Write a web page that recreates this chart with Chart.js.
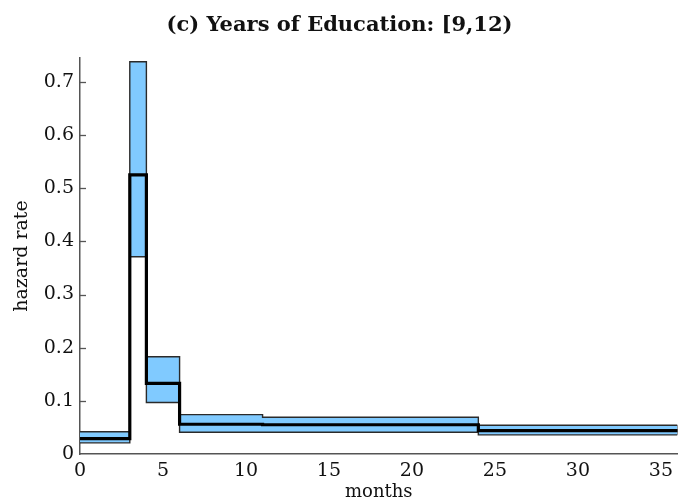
<!DOCTYPE html>
<html>
<head>
<meta charset="utf-8">
<script src="https://cdn.jsdelivr.net/npm/chart.js@4/dist/chart.umd.min.js"></script>
<style>
html,body{margin:0;padding:0;background:#fff;}
#wrap{width:679px;height:503px;}
</style>
</head>
<body>
<div id="wrap"><canvas id="c" width="679" height="503"></canvas></div>
<script>
// Interval break points (months) and per-interval values
const breaks = [0, 3, 4, 6, 11, 24, 36];
const hazard = [0.029, 0.525, 0.133, 0.056, 0.055, 0.044];
const upperBand = [0.042, 0.738, 0.183, 0.074, 0.069, 0.054];
const lowerBand = [0.021, 0.371, 0.097, 0.041, 0.041, 0.036];
const xTicks = [0, 5, 10, 15, 20, 25, 30, 35];
const yTicks = [0, 0.1, 0.2, 0.3, 0.4, 0.5, 0.6, 0.7];

function steps(vals) {
  const pts = breaks.slice(0, vals.length).map((b, i) => ({x: b, y: vals[i]}));
  pts.push({x: breaks[breaks.length - 1], y: vals[vals.length - 1]});
  return pts;
}
const last = breaks.length - 1;
const edge = [{x: breaks[last], y: lowerBand[lowerBand.length - 1]}, {x: breaks[last], y: upperBand[upperBand.length - 1]}];

const serif = "'DejaVu Serif', 'Liberation Serif', serif";
const bandFill = 'rgb(128,202,255)';
const bandEdge = '#2a2a2a';

const inwardTicks = {
  id: 'inwardTicks',
  afterDraw(chart) {
    const ys = chart.scales.y, ctx = chart.ctx;
    ctx.save();
    ctx.strokeStyle = '#555';
    ctx.lineWidth = 1.3;
    yTicks.forEach(v => {
      if (v === 0) return;
      const p = Math.round(ys.getPixelForValue(v)) + 0.5;
      ctx.beginPath();
      ctx.moveTo(ys.right, p);
      ctx.lineTo(ys.right + 6, p);
      ctx.stroke();
    });
    ctx.restore();
  }
};

new Chart(document.getElementById('c'), {
  type: 'line',
  data: {
    datasets: [
      {label: 'hazard', data: steps(hazard), stepped: 'before', borderColor: '#000', borderWidth: 3.2, pointRadius: 0, fill: false, order: 0, clip: false},
      {label: 'upper', data: steps(upperBand), stepped: 'before', borderColor: bandEdge, borderWidth: 1.4, pointRadius: 0, fill: false, order: 1},
      {label: 'lower', data: steps(lowerBand), stepped: 'before', borderColor: bandEdge, borderWidth: 1.4, pointRadius: 0, fill: '-1', backgroundColor: bandFill, order: 1},
      {label: 'edge', data: edge, borderColor: bandEdge, borderWidth: 1.4, pointRadius: 0, fill: false, order: 1}
    ]
  },
  options: {
    responsive: false,
    animation: false,
    events: [],
    layout: {padding: {left: 0, right: 0, top: 0, bottom: 0}},
    plugins: {
      legend: {display: false},
      tooltip: {enabled: false},
      title: {
        display: true,
        text: '(c) Years of Education: [9,12)',
        color: '#111',
        font: {family: serif, size: 21, weight: 'bold'},
        padding: {top: 12.5, bottom: 20.3}
      }
    },
    scales: {
      x: {
        type: 'linear',
        min: 0, max: 36,
        afterBuildTicks(s) { s.ticks = xTicks.map(v => ({value: v})); },
        afterFit(s) { s.height = 49; },
        grid: {display: false, drawTicks: false},
        border: {display: true, color: '#555', width: 1.5},
        ticks: {color: '#111', font: {family: serif, size: 19}, padding: 6, maxRotation: 0, autoSkip: false},
        title: {display: true, text: 'months', color: '#111', font: {family: serif, size: 18}, padding: {top: 0, bottom: 0}}
      },
      y: {
        type: 'linear',
        min: 0, max: 0.745,
        afterBuildTicks(s) { s.ticks = yTicks.map(v => ({value: v})); },
        afterFit(s) { s.width = 80; },
        grid: {display: false, drawTicks: false},
        border: {display: true, color: '#555', width: 1.5},
        ticks: {color: '#111', font: {family: serif, size: 19}, padding: 6, callback: v => v === 0 ? '0' : v.toFixed(1)},
        title: {display: true, text: 'hazard rate', color: '#111', font: {family: serif, size: 19}, padding: {top: 11, bottom: 0}}
      }
    }
  },
  plugins: [inwardTicks]
});
</script>
</body>
</html>
